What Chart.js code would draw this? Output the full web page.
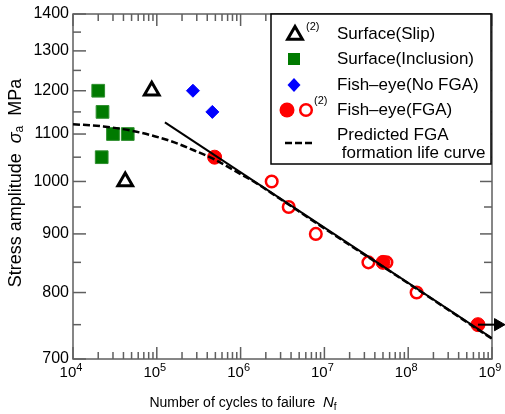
<!DOCTYPE html>
<html>
<head>
<meta charset="utf-8">
<script src="https://cdn.jsdelivr.net/npm/chart.js@4"></script>
<style>body{margin:0;background:#fff}</style>
</head>
<body>
<canvas id="sn" width="505" height="414"></canvas>
<script>
// values (cycles, MPa)
var slipN = [8.7e4, 4.2e4];
var slipS = [1200, 1000];
var inclN = [2.0e4, 2.25e4, 3.0e4, 4.5e4, 2.2e4];
var inclS = [1200, 1150, 1100, 1100, 1050];
var noFgaN = [2.7e5, 4.6e5];
var noFgaS = [1200, 1150];
var fgaN = [4.9e5, 5.0e7, 6.8e8];
var fgaS = [1050, 850, 750];
var fga2N = [2.35e6, 3.75e6, 7.9e6, 3.35e7, 5.5e7, 1.26e8];
var fga2S = [1000, 950, 900, 850, 850, 800];
var fitN = [1.25e5, 1e9];
var fitS = [1126, 730];
var curveN = [1e4, 2.3e4, 5.75e4, 1.44e5, 3e5, 4.9e5, 1e6, 1.56e6, 2.7e6, 1e7, 1e8, 1e9];
var curveS = [1122, 1117, 1105, 1085, 1062, 1045, 1015, 996, 970, 910, 815, 729];
var runoutN = [6.8e8, 1.18e9];
var runoutS = [750, 750];

var xDecades = [4, 5, 6, 7, 8, 9];
var xExp = ['4', '5', '6', '7', '8', '9'];
var yMajor = [700, 800, 900, 1000, 1100, 1200, 1300, 1400];
var yMinor = [750, 850, 950, 1050, 1150, 1250, 1350];

var FONT = '"Liberation Sans", Arial, Helvetica, sans-serif';
var AXIS = '#5f5f5f';

function pts(xs, ys) {
  return xs.map(function (x, i) { return { x: x, y: ys[i] }; });
}

function seg(ctx, x1, y1, x2, y2) {
  ctx.beginPath(); ctx.moveTo(x1, y1); ctx.lineTo(x2, y2); ctx.stroke();
}

// mixed text: normal / italic / subscripts
function runs(ctx, parts, x, y) {
  var w = 0;
  parts.forEach(function (p) { ctx.font = p.f + ' ' + FONT; p.w = ctx.measureText(p.t).width; w += p.w; });
  var cx = x - w / 2;
  parts.forEach(function (p) {
    ctx.font = p.f + ' ' + FONT;
    ctx.fillText(p.t, cx, y + (p.dy || 0));
    cx += p.w;
  });
}

function triangle(ctx, x, y, r) {
  ctx.beginPath();
  ctx.moveTo(x, y - r);
  ctx.lineTo(x + r * 0.866, y + r / 2);
  ctx.lineTo(x - r * 0.866, y + r / 2);
  ctx.closePath();
}

var framePlugin = {
  id: 'frame',
  beforeDatasetsDraw: function (chart) {
    var ctx = chart.ctx, a = chart.chartArea, xs = chart.scales.x, ys = chart.scales.y;
    ctx.save();
    ctx.strokeStyle = AXIS;
    ctx.lineWidth = 1.5;
    ctx.strokeRect(a.left, a.top, a.right - a.left, a.bottom - a.top);
    xDecades.forEach(function (d) {
      for (var m = 1; m <= 9; m++) {
        var v = m * Math.pow(10, d);
        if (v > 1e9) break;
        var px = xs.getPixelForValue(v);
        var len = m === 1 ? 12 : 7;
        seg(ctx, px, a.bottom, px, a.bottom - len);
        seg(ctx, px, a.top, px, a.top + len);
      }
    });
    yMajor.forEach(function (v) {
      var py = ys.getPixelForValue(v);
      seg(ctx, a.left, py, a.left + 13, py);
      seg(ctx, a.right, py, a.right - 12, py);
    });
    yMinor.forEach(function (v) {
      var py = ys.getPixelForValue(v);
      seg(ctx, a.left, py, a.left + 8, py);
      seg(ctx, a.right, py, a.right - 8, py);
    });
    ctx.restore();
  },
  afterDraw: function (chart) {
    var ctx = chart.ctx, a = chart.chartArea, xs = chart.scales.x;
    ctx.save();
    ctx.fillStyle = '#000';
    ctx.textAlign = 'left';
    ctx.textBaseline = 'alphabetic';
    xDecades.forEach(function (d, i) {
      var px = xs.getPixelForValue(Math.pow(10, d));
      runs(ctx, [{ t: '10', f: '15px' }, { t: xExp[i], f: '11px', dy: -6 }], px - 2, a.bottom + 18);
    });
    ctx.textBaseline = 'middle';
    runs(ctx, [
      { t: 'Number of cycles to failure  ', f: '14px' },
      { t: 'N', f: 'italic 15px' },
      { t: 'f', f: '10px', dy: 4 }
    ], 243, 403);
    ctx.translate(16, 183);
    ctx.rotate(-Math.PI / 2);
    runs(ctx, [
      { t: 'Stress amplitude  ', f: '18px' },
      { t: 'σ', f: 'italic 18px' },
      { t: 'a', f: '12px', dy: 4 },
      { t: '  MPa', f: '18px' }
    ], 0, 0);
    ctx.restore();
  }
};

var legendPlugin = {
  id: 'boxLegend',
  afterDatasetsDraw: function (chart) {
    var ctx = chart.ctx;
    var ds = chart.data.datasets;
    ctx.save();
    ctx.fillStyle = '#fff';
    ctx.fillRect(271, 14, 220, 150);
    ctx.strokeStyle = '#000';
    ctx.lineWidth = 1.5;
    ctx.strokeRect(271, 14, 220, 150);

    // symbols
    ctx.lineWidth = 3;
    triangle(ctx, 295, 35, 8.5);
    ctx.fillStyle = '#fff'; ctx.fill(); ctx.stroke();
    ctx.fillStyle = '#007a00';
    ctx.fillRect(288, 53, 12, 12);
    ctx.fillStyle = '#0000ff';
    ctx.beginPath();
    ctx.moveTo(294, 78); ctx.lineTo(300.5, 85); ctx.lineTo(294, 92); ctx.lineTo(287.5, 85);
    ctx.closePath(); ctx.fill();
    ctx.fillStyle = '#ff0000';
    ctx.beginPath(); ctx.arc(287, 110, 7.5, 0, Math.PI * 2); ctx.fill();
    ctx.strokeStyle = '#ff0000'; ctx.lineWidth = 2.5;
    ctx.beginPath(); ctx.arc(306, 110, 5.8, 0, Math.PI * 2); ctx.stroke();
    ctx.strokeStyle = '#000'; ctx.lineWidth = 2.5;
    ctx.setLineDash([7, 3]);
    seg(ctx, 285, 143, 313, 143);
    ctx.setLineDash([]);

    // labels
    ctx.fillStyle = '#000';
    ctx.textBaseline = 'middle';
    ctx.textAlign = 'left';
    ctx.font = '11px ' + FONT;
    ctx.fillText('(2)', 306, 27);
    ctx.fillText('(2)', 314, 101);
    ctx.font = '17px ' + FONT;
    ctx.fillText(ds[3].label, 337, 34);
    ctx.fillText(ds[4].label, 337, 59);
    ctx.fillText(ds[5].label, 337, 85);
    ctx.fillText(ds[6].label, 337, 110);
    ctx.fillText('Predicted FGA', 337, 135);
    ctx.fillText(' formation life curve', 337, 153);
    ctx.restore();
  }
};

new Chart(document.getElementById('sn'), {
  type: 'scatter',
  data: {
    datasets: [
      {
        label: 'Predicted FGA formation life curve',
        data: pts(curveN, curveS),
        showLine: true,
        borderColor: '#000',
        borderWidth: 2.5,
        borderDash: [7, 3],
        pointRadius: 0,
        cubicInterpolationMode: 'monotone'
      },
      {
        label: 'fit',
        data: pts(fitN, fitS),
        showLine: true,
        borderColor: '#000',
        borderWidth: 2,
        pointRadius: 0
      },
      {
        label: 'runout',
        data: pts(runoutN, runoutS),
        showLine: true,
        clip: false,
        borderColor: '#000',
        borderWidth: 2,
        pointRadius: [0, 7],
        pointStyle: 'triangle',
        pointRotation: 90,
        pointBackgroundColor: '#000',
        pointBorderColor: '#000',
        pointBorderWidth: 1
      },
      {
        label: 'Surface(Slip)',
        data: pts(slipN, slipS),
        pointStyle: 'triangle',
        pointRadius: 8.5,
        pointBackgroundColor: '#fff',
        pointBorderColor: '#000',
        pointBorderWidth: 3
      },
      {
        label: 'Surface(Inclusion)',
        data: pts(inclN, inclS),
        pointStyle: 'rect',
        pointRadius: 9,
        pointBackgroundColor: '#007a00',
        pointBorderColor: '#2f8f2f',
        pointBorderWidth: 1
      },
      {
        label: 'Fish\u2013eye(No FGA)',
        data: pts(noFgaN, noFgaS),
        pointStyle: 'rectRot',
        pointRadius: 6.5,
        pointBackgroundColor: '#0000ff',
        pointBorderColor: '#0000ff',
        pointBorderWidth: 1
      },
      {
        label: 'Fish\u2013eye(FGA)',
        data: pts(fgaN, fgaS),
        pointStyle: 'circle',
        pointRadius: 7,
        pointBackgroundColor: '#ff0000',
        pointBorderColor: '#ff0000',
        pointBorderWidth: 1
      },
      {
        label: 'Fish\u2013eye(FGA) (2)',
        data: pts(fga2N, fga2S),
        pointStyle: 'circle',
        pointRadius: 5.8,
        pointBackgroundColor: 'rgba(0,0,0,0)',
        pointBorderColor: '#ff0000',
        pointBorderWidth: 2.5
      }
    ]
  },
  options: {
    responsive: false,
    animation: false,
    events: [],
    layout: { padding: { top: 14, right: 13, left: 0, bottom: 0 } },
    plugins: { legend: { display: false }, tooltip: { enabled: false } },
    scales: {
      x: {
        type: 'logarithmic',
        min: 1e4,
        max: 1e9,
        grid: { display: false, drawTicks: false },
        border: { display: false },
        ticks: { display: false },
        afterFit: function (s) { s.height = 55; }
      },
      y: {
        type: 'logarithmic',
        min: 700,
        max: 1400,
        grid: { display: false, drawTicks: false },
        border: { display: false },
        afterBuildTicks: function (s) {
          s.ticks = yMajor.map(function (v) { return { value: v }; });
        },
        ticks: {
          padding: 4,
          color: '#000',
          font: { family: FONT, size: 16 },
          callback: function (v) { return String(v); }
        },
        afterFit: function (s) { s.width = 73; }
      }
    }
  },
  plugins: [framePlugin, legendPlugin]
});
</script>
</body>
</html>
